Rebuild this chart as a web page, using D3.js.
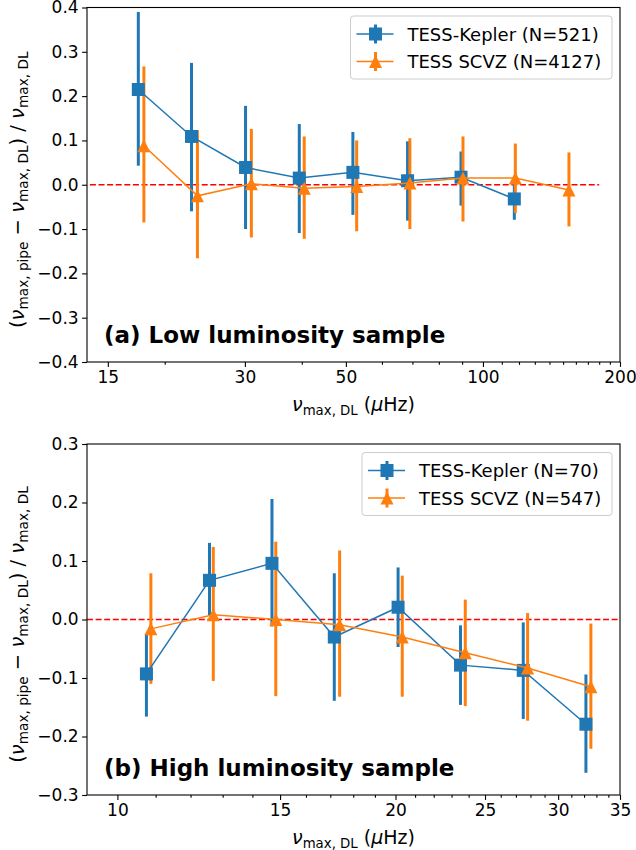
<!DOCTYPE html>
<html lang="en">
<head>
<meta charset="utf-8">
<title>numax pipeline vs DL</title>
<script src="https://d3js.org/d3.v7.min.js"></script>
<style>
  body { margin: 0; background: #fff; }
  svg text { font-family: "DejaVu Sans", sans-serif; }
  .mlabel { white-space: pre; }
</style>
</head>
<body>
<div id="chart"></div>
<script>

// (a) low luminosity sample
var lowKeplerX  = [17.5, 22.9, 30.1, 39.5, 51.8, 68.3, 89.5, 117.2];
var lowKeplerY  = [0.215, 0.109, 0.039, 0.015, 0.028, 0.009, 0.017, -0.032];
var lowKeplerHi = [0.390, 0.275, 0.178, 0.137, 0.119, 0.098, 0.075, 0.015];
var lowKeplerLo = [0.043, -0.060, -0.100, -0.109, -0.068, -0.081, -0.047, -0.079];

var lowScvzX  = [18.0, 23.6, 31.0, 40.5, 52.8, 69.1, 90.4, 117.8, 154.5];
var lowScvzY  = [0.088, -0.025, 0.002, -0.008, -0.004, 0.004, 0.015, 0.015, -0.012];
var lowScvzHi = [0.267, 0.123, 0.126, 0.109, 0.100, 0.105, 0.109, 0.093, 0.073];
var lowScvzLo = [-0.085, -0.166, -0.119, -0.122, -0.105, -0.100, -0.083, -0.064, -0.094];

// (b) high luminosity sample
var highKeplerX  = [10.75, 12.58, 14.7, 17.17, 20.13, 23.52, 27.5, 32.15];
var highKeplerY  = [-0.093, 0.067, 0.096, -0.030, 0.021, -0.078, -0.087, -0.179];
var highKeplerHi = [-0.024, 0.131, 0.206, 0.079, 0.089, -0.010, -0.005, -0.094];
var highKeplerLo = [-0.166, 0.007, -0.012, -0.139, -0.047, -0.146, -0.170, -0.262];

var highScvzX  = [10.87, 12.7, 14.84, 17.4, 20.34, 23.8, 27.8, 32.55];
var highScvzY  = [-0.016, 0.008, 0.000, -0.009, -0.030, -0.057, -0.083, -0.115];
var highScvzHi = [0.079, 0.124, 0.133, 0.118, 0.075, 0.034, 0.011, -0.007];
var highScvzLo = [-0.110, -0.105, -0.131, -0.132, -0.132, -0.148, -0.173, -0.221];

// axis ticks
var lowXMajor  = [15, 30, 50, 100, 200];
var lowXMinor  = [20, 40, 60, 70, 80, 90, 110, 120, 130, 140, 150, 160, 170, 180, 190];
var lowYTicks  = [-0.4, -0.3, -0.2, -0.1, 0.0, 0.1, 0.2, 0.3, 0.4];
var highXMajor = [10, 15, 20, 25, 30, 35];
var highXMinor = [11, 12, 13, 14, 16, 17, 18, 19, 21, 22, 23, 24, 26, 27, 28, 29, 31, 32, 33, 34];
var highYTicks = [-0.3, -0.2, -0.1, 0.0, 0.1, 0.2, 0.3];

var blue = "#1f77b4", orange = "#ff7f0e";

var svg = d3.select("#chart")
            .append("svg")
            .attr("width", 636)
            .attr("height", 850);

var left = 87, right = 620;

// writes mathtext-like pieces into a text element
function mathText(sel, parts, size) {
    parts.forEach(function(p, i) {
        var prev = i > 0 ? parts[i - 1] : null;
        var t = sel.append("tspan").text(p.t);
        var shift = 0;
        if (p.sub && !(prev && prev.sub)) shift = size * 0.2;
        if (!p.sub && prev && prev.sub) shift = -size * 0.2;
        if (shift) t.attr("dy", shift);
        t.attr("font-size", p.sub ? size * 0.7 : size);
        if (p.it) t.attr("font-style", "italic");
    });
}

var yLabelParts = [
    {t: "("}, {t: "ν", it: true}, {t: "max, pipe", sub: true},
    {t: " − "}, {t: "ν", it: true}, {t: "max, DL", sub: true},
    {t: ") / "}, {t: "ν", it: true}, {t: "max, DL", sub: true}
];
var xLabelParts = [
    {t: "ν", it: true}, {t: "max, DL", sub: true},
    {t: " ("}, {t: "μ", it: true}, {t: "Hz)"}
];

// square and triangle markers
var ms = 13;
function squarePath() {
    var h = ms / 2;
    return "M" + (-h) + "," + (-h) + "H" + h + "V" + h + "H" + (-h) + "Z";
}
function trianglePath() {
    var h = ms / 2;
    return "M0," + (-h) + "L" + h + "," + h + "L" + (-h) + "," + h + "Z";
}

function drawPanel(p) {
    var x = d3.scaleLog().domain(p.xDomain).range([left, right]);
    var y = d3.scaleLinear().domain(p.yDomain).range([p.bottom, p.top]);
    var g = svg.append("g");

    // zero line
    g.append("line")
        .attr("x1", x(p.refX[0])).attr("x2", x(p.refX[1]))
        .attr("y1", y(0)).attr("y2", y(0))
        .attr("stroke", "red")
        .attr("stroke-width", 1.6)
        .attr("stroke-dasharray", "6,2.6");

    // error bars
    p.series.forEach(function(s) {
        g.selectAll(null)
            .data(s.x)
            .enter()
            .append("line")
            .attr("x1", function(d) { return x(d); })
            .attr("x2", function(d) { return x(d); })
            .attr("y1", function(d, i) { return y(s.hi[i]); })
            .attr("y2", function(d, i) { return y(s.lo[i]); })
            .attr("stroke", s.color)
            .attr("stroke-width", 3);
    });

    // lines + markers
    p.series.forEach(function(s) {
        var line = d3.line()
            .x(function(d) { return x(d[0]); })
            .y(function(d) { return y(d[1]); });
        var pts = s.x.map(function(d, i) { return [d, s.y[i]]; });
        g.append("path")
            .attr("d", line(pts))
            .attr("fill", "none")
            .attr("stroke", s.color)
            .attr("stroke-width", 1.5);
        g.selectAll(null)
            .data(pts)
            .enter()
            .append("path")
            .attr("d", s.marker == "s" ? squarePath() : trianglePath())
            .attr("transform", function(d) { return "translate(" + x(d[0]) + "," + y(d[1]) + ")"; })
            .attr("fill", s.color);
    });

    // frame
    g.append("rect")
        .attr("x", left).attr("y", p.top)
        .attr("width", right - left).attr("height", p.bottom - p.top)
        .attr("fill", "none")
        .attr("stroke", "black")
        .attr("stroke-width", 1.1);

    // axes
    var xMaj = g.append("g")
        .attr("transform", "translate(0," + p.bottom + ")")
        .call(d3.axisBottom(x).tickValues(p.xMajor).tickFormat(d3.format("d")).tickSize(4.9).tickPadding(4.5));
    var xMin = g.append("g")
        .attr("transform", "translate(0," + p.bottom + ")")
        .call(d3.axisBottom(x).tickValues(p.xMinor).tickFormat("").tickSize(2.8));
    var yAx = g.append("g")
        .attr("transform", "translate(" + left + ",0)")
        .call(d3.axisLeft(y).tickValues(p.yTicks).tickFormat(d3.format(".1f")).tickSize(4.9).tickPadding(3.5));
    [xMaj, xMin, yAx].forEach(function(a) {
        a.select(".domain").remove();
        a.attr("font-family", "DejaVu Sans").attr("font-size", 17).attr("color", "black");
        a.selectAll(".tick line").attr("stroke-width", 1.1);
    });

    // axis labels
    var xl = g.append("text")
        .attr("class", "mlabel")
        .attr("x", (left + right) / 2)
        .attr("y", p.bottom + 49)
        .attr("text-anchor", "middle");
    mathText(xl, xLabelParts, 19);

    var yl = g.append("text")
        .attr("class", "mlabel")
        .attr("transform", "translate(24," + ((p.top + p.bottom) / 2 + 5) + ") rotate(-90)")
        .attr("text-anchor", "middle");
    mathText(yl, yLabelParts, 19.5);

    // panel label
    g.append("text")
        .attr("x", 104)
        .attr("y", p.bottom - 19)
        .attr("font-size", 23)
        .attr("font-weight", "bold")
        .text(p.title);

    // legend
    var lg = g.append("g").attr("transform", "translate(" + p.legendX + "," + (p.top + 8.5) + ")");
    lg.append("rect")
        .attr("width", 612 - p.legendX).attr("height", 63)
        .attr("rx", 3)
        .attr("fill", "white").attr("fill-opacity", 0.8)
        .attr("stroke", "#cccccc").attr("stroke-width", 1);
    p.series.forEach(function(s, i) {
        var cy = 18 + i * 27.5;
        lg.append("line")
            .attr("x1", 6).attr("x2", 43).attr("y1", cy).attr("y2", cy)
            .attr("stroke", s.color).attr("stroke-width", 1.5);
        lg.append("line")
            .attr("x1", 25).attr("x2", 25).attr("y1", cy - 9.5).attr("y2", cy + 9.5)
            .attr("stroke", s.color).attr("stroke-width", 3);
        lg.append("path")
            .attr("d", s.marker == "s" ? squarePath() : trianglePath())
            .attr("transform", "translate(25," + cy + ")")
            .attr("fill", s.color);
        lg.append("text")
            .attr("x", 57).attr("y", cy + 6.5)
            .attr("font-size", 18)
            .text(s.name);
    });
}

drawPanel({
    top: 7.5, bottom: 362,
    xDomain: [13.5, 200], yDomain: [-0.4, 0.4],
    xMajor: lowXMajor, xMinor: lowXMinor, yTicks: lowYTicks,
    refX: [13.7, 180],
    title: "(a) Low luminosity sample",
    legendX: 350.5,
    series: [
        {name: "TESS-Kepler (N=521)", color: blue, marker: "s",
         x: lowKeplerX, y: lowKeplerY, hi: lowKeplerHi, lo: lowKeplerLo},
        {name: "TESS SCVZ (N=4127)", color: orange, marker: "^",
         x: lowScvzX, y: lowScvzY, hi: lowScvzHi, lo: lowScvzLo}
    ]
});

drawPanel({
    top: 444, bottom: 795,
    xDomain: [9.27, 35], yDomain: [-0.3, 0.3],
    xMajor: highXMajor, xMinor: highXMinor, yTicks: highYTicks,
    refX: [9.27, 35],
    title: "(b) High luminosity sample",
    legendX: 362,
    series: [
        {name: "TESS-Kepler (N=70)", color: blue, marker: "s",
         x: highKeplerX, y: highKeplerY, hi: highKeplerHi, lo: highKeplerLo},
        {name: "TESS SCVZ (N=547)", color: orange, marker: "^",
         x: highScvzX, y: highScvzY, hi: highScvzHi, lo: highScvzLo}
    ]
});

</script>
</body>
</html>
